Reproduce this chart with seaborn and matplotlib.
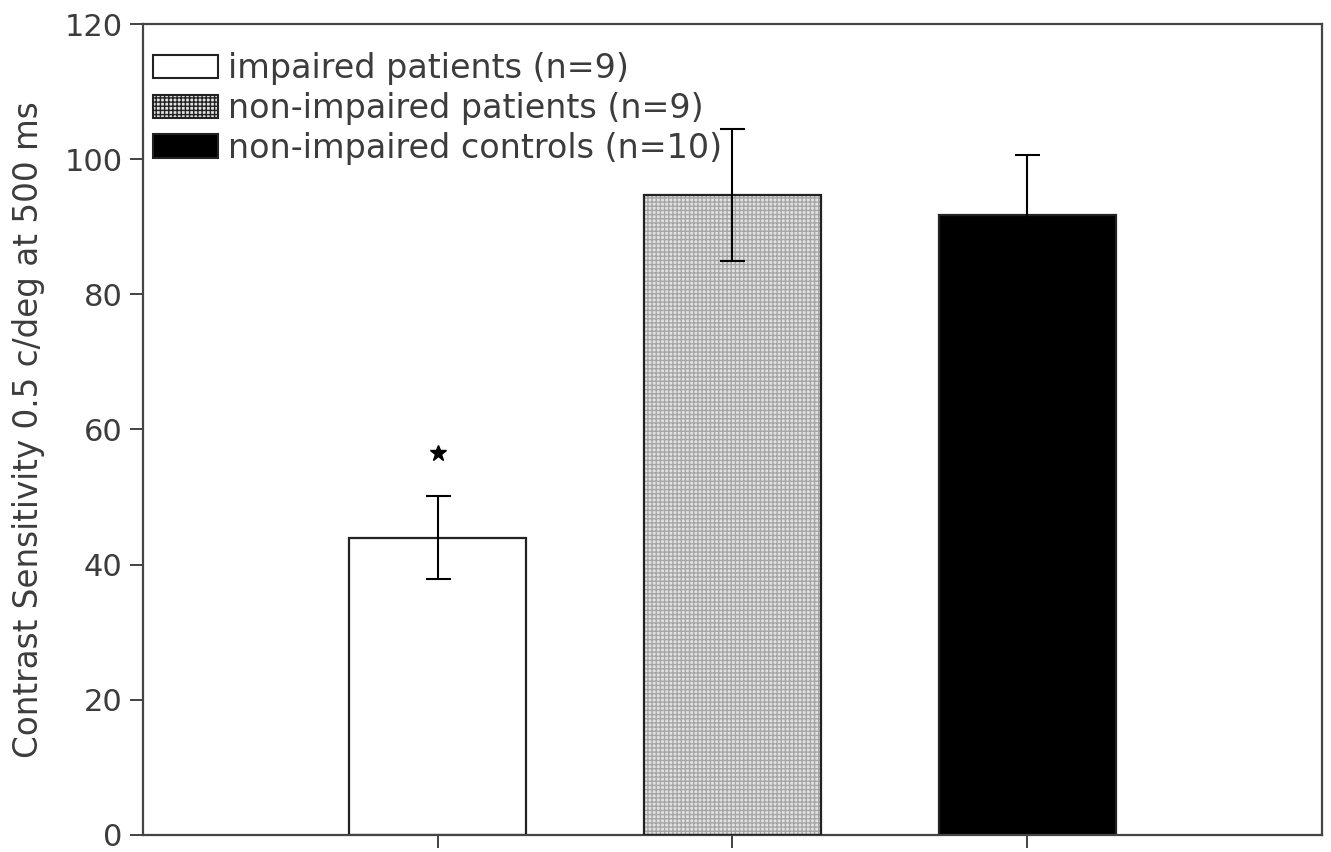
import matplotlib
matplotlib.use("Agg")
import matplotlib.pyplot as plt
from matplotlib.patches import Rectangle
import seaborn as sns
import pandas as pd

groups = ["impaired patients (n=9)", "non-impaired patients (n=9)", "non-impaired controls (n=10)"]
means = [44.0, 94.7, 91.8]
sems = [6.1, 9.8, 8.8]
star_group = [0]
star_y = [56.5]

sns.set_style("white")
plt.rcParams['font.family'] = ['DejaVu Sans']

df = pd.DataFrame({'group': groups, 'value': means})

fig = plt.figure(figsize=(13.31, 8.52), dpi=100)
ax = fig.add_axes([0.1074, 0.02, 0.8858, 0.9518])

txt = '#3c3c3c'
edge = '#222222'

sns.barplot(data=df, x='group', y='value', hue='group', order=groups, hue_order=groups,
            palette=['white', '#e2e2e2', 'black'], errorbar=None, width=0.6,
            edgecolor=edge, linewidth=1.6, legend=False, ax=ax, zorder=2)

# hatched middle bar: light grey fine grid, then a dark outline on top
p = ax.patches[1]
p.set_edgecolor('#a6a6a6')
p.set_hatch('++++')
p.set_linewidth(0.3)
ax.add_patch(Rectangle(p.get_xy(), p.get_width(), p.get_height(), fill=False,
                       edgecolor=edge, linewidth=1.6, zorder=3))

ax.errorbar(x=range(len(groups)), y=means, yerr=sems, fmt='none', ecolor='black',
            elinewidth=1.5, capsize=9, capthick=1.5, zorder=4)

ax.plot(star_group, star_y, marker='*', color='black', markersize=12, linestyle='none', zorder=5)

ax.set_xlim(-1, 3)
ax.set_ylim(0, 120)
ax.set_yticks([0, 20, 40, 60, 80, 100, 120])
ax.set_xticks(range(len(groups)))
ax.set_xticklabels([])
ax.set_xlabel('')
ax.set_ylabel('Contrast Sensitivity 0.5 c/deg at 500 ms', fontsize=23.5, color=txt, labelpad=14)
ax.tick_params(axis='both', direction='out', length=9.5, width=1.3, color='#333333',
               labelsize=22, labelcolor=txt, pad=5, left=True, bottom=True)
for s in ax.spines.values():
    s.set_color('#444444')
    s.set_linewidth(1.6)

handles = []
for i, g in enumerate(groups):
    src = ax.patches[i]
    h = Rectangle((0, 0), 1, 1, facecolor=src.get_facecolor(), edgecolor=edge, linewidth=1.5,
                  hatch='++++' if i == 1 else None)
    handles.append(h)
leg = ax.legend(handles, groups, loc='upper left', bbox_to_anchor=(0.0085, 0.965), frameon=False,
                fontsize=24, handlelength=1.95, handleheight=0.7, handletextpad=0.3,
                labelspacing=0.2, borderaxespad=0, borderpad=0)
for t in leg.get_texts():
    t.set_color(txt)

fig.savefig('out.png', dpi=100)
